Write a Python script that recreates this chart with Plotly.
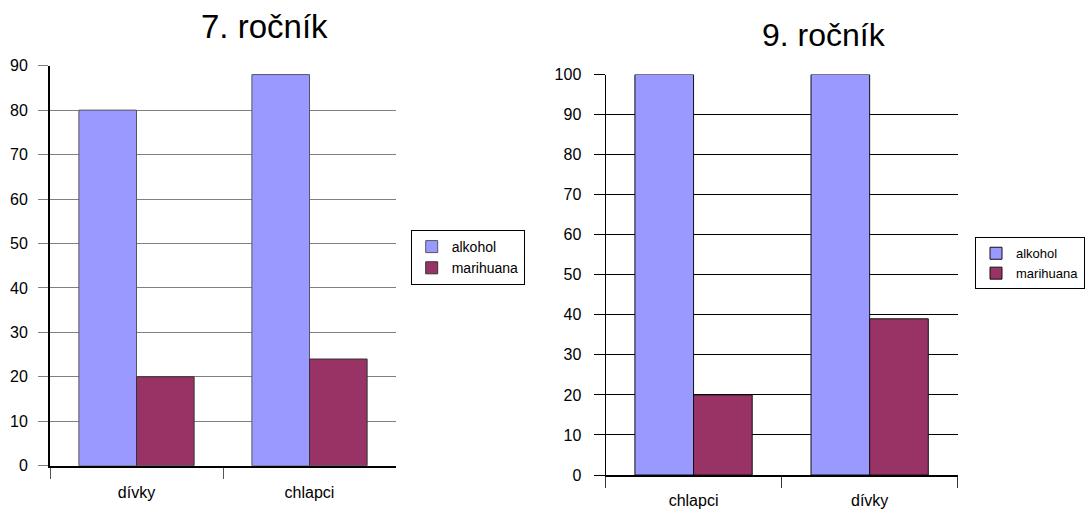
import plotly.graph_objects as go

# Survey results: share of pupils (%) who have tried each substance
grade7_title = "7. ročník"
grade7_groups = ["dívky", "chlapci"]
grade7_alkohol = [80, 88]
grade7_marihuana = [20, 24]

grade9_title = "9. ročník"
grade9_groups = ["chlapci", "dívky"]
grade9_alkohol = [100, 100]
grade9_marihuana = [20, 39]

series_names = ["alkohol", "marihuana"]
grade7_ticks = list(range(0, 91, 10))
grade9_ticks = list(range(0, 101, 10))

W, H = 1085, 513
FONT = "Liberation Sans, Arial, sans-serif"
C_ALK = "#9999FF"
C_MAR = "#993366"


def px_x(p):
    return p / W


def px_y(p):
    return 1 - p / H


fig = go.Figure()

# left chart: 7th grade
fig.add_trace(go.Bar(x=grade7_groups, y=grade7_alkohol, name=series_names[0],
                     marker=dict(color=C_ALK, line=dict(color="#555566", width=1)),
                     xaxis="x", yaxis="y", legend="legend"))
fig.add_trace(go.Bar(x=grade7_groups, y=grade7_marihuana, name=series_names[1],
                     marker=dict(color=C_MAR, line=dict(color="#333333", width=1)),
                     xaxis="x", yaxis="y", legend="legend"))

# right chart: 9th grade
fig.add_trace(go.Bar(x=grade9_groups, y=grade9_alkohol, name=series_names[0],
                     marker=dict(color=C_ALK, line=dict(color="#111111", width=1)),
                     xaxis="x2", yaxis="y2", legend="legend2"))
fig.add_trace(go.Bar(x=grade9_groups, y=grade9_marihuana, name=series_names[1],
                     marker=dict(color=C_MAR, line=dict(color="#111111", width=1)),
                     xaxis="x2", yaxis="y2", legend="legend2"))

tick_font = dict(family=FONT, size=16, color="#000000")

fig.update_layout(
    width=W, height=H,
    margin=dict(l=0, r=0, t=0, b=0, autoexpand=False),
    paper_bgcolor="white", plot_bgcolor="white",
    barmode="group", bargap=0.334, bargroupgap=0,
    font=dict(family=FONT, color="#000000"),
    xaxis=dict(domain=[px_x(50), px_x(396)], anchor="y", automargin=False,
               showline=True, linecolor="#000000", linewidth=2,
               showgrid=False, ticks="outside", tickson="boundaries",
               ticklen=11, tickcolor="#555555", tickwidth=1,
               ticklabelstandoff=11, tickfont=tick_font, fixedrange=True),
    yaxis=dict(domain=[px_y(465.7), px_y(65.7)], anchor="x", automargin=False,
               range=[0, 90], tickvals=grade7_ticks,
               showline=True, linecolor="#000000", linewidth=2,
               showgrid=True, gridcolor="#808080", gridwidth=1,
               zeroline=False, ticks="outside", ticklen=10,
               tickcolor="#808080", tickwidth=1, ticklabelstandoff=7,
               tickfont=tick_font, fixedrange=True),
    xaxis2=dict(domain=[px_x(605.5), px_x(957.7)], anchor="y2", automargin=False,
                showline=True, linecolor="#000000", linewidth=2,
                showgrid=False, ticks="outside", tickson="boundaries",
                ticklen=11, tickcolor="#333333", tickwidth=1,
                ticklabelstandoff=10, tickfont=tick_font, fixedrange=True),
    yaxis2=dict(domain=[px_y(475), px_y(74.5)], anchor="x2", automargin=False,
                range=[0, 100], tickvals=grade9_ticks,
                showline=True, linecolor="#000000", linewidth=1,
                showgrid=True, gridcolor="#000000", gridwidth=1,
                zeroline=False, ticks="outside", ticklen=11,
                tickcolor="#000000", tickwidth=1, ticklabelstandoff=9,
                tickfont=tick_font, fixedrange=True),
    legend=dict(x=px_x(410.7), y=px_y(230), xanchor="left", yanchor="top",
                bgcolor="white", bordercolor="#000000", borderwidth=1,
                font=dict(family=FONT, size=14, color="#000000"),
                tracegroupgap=0, itemclick=False, itemdoubleclick=False),
    legend2=dict(x=px_x(975), y=px_y(237.3), xanchor="left", yanchor="top",
                 bgcolor="white", bordercolor="#000000", borderwidth=1,
                 font=dict(family=FONT, size=13, color="#000000"),
                 tracegroupgap=0, itemclick=False, itemdoubleclick=False),
    annotations=[
        dict(text=grade7_title, x=px_x(264), y=px_y(27), xref="paper", yref="paper",
             xanchor="center", yanchor="middle", showarrow=False,
             font=dict(family=FONT, size=33, color="#000000")),
        dict(text=grade9_title, x=px_x(823.7), y=px_y(35), xref="paper", yref="paper",
             xanchor="center", yanchor="middle", showarrow=False,
             font=dict(family=FONT, size=32, color="#000000")),
    ],
)

fig.write_html("out.html", config=dict(displayModeBar=False))
